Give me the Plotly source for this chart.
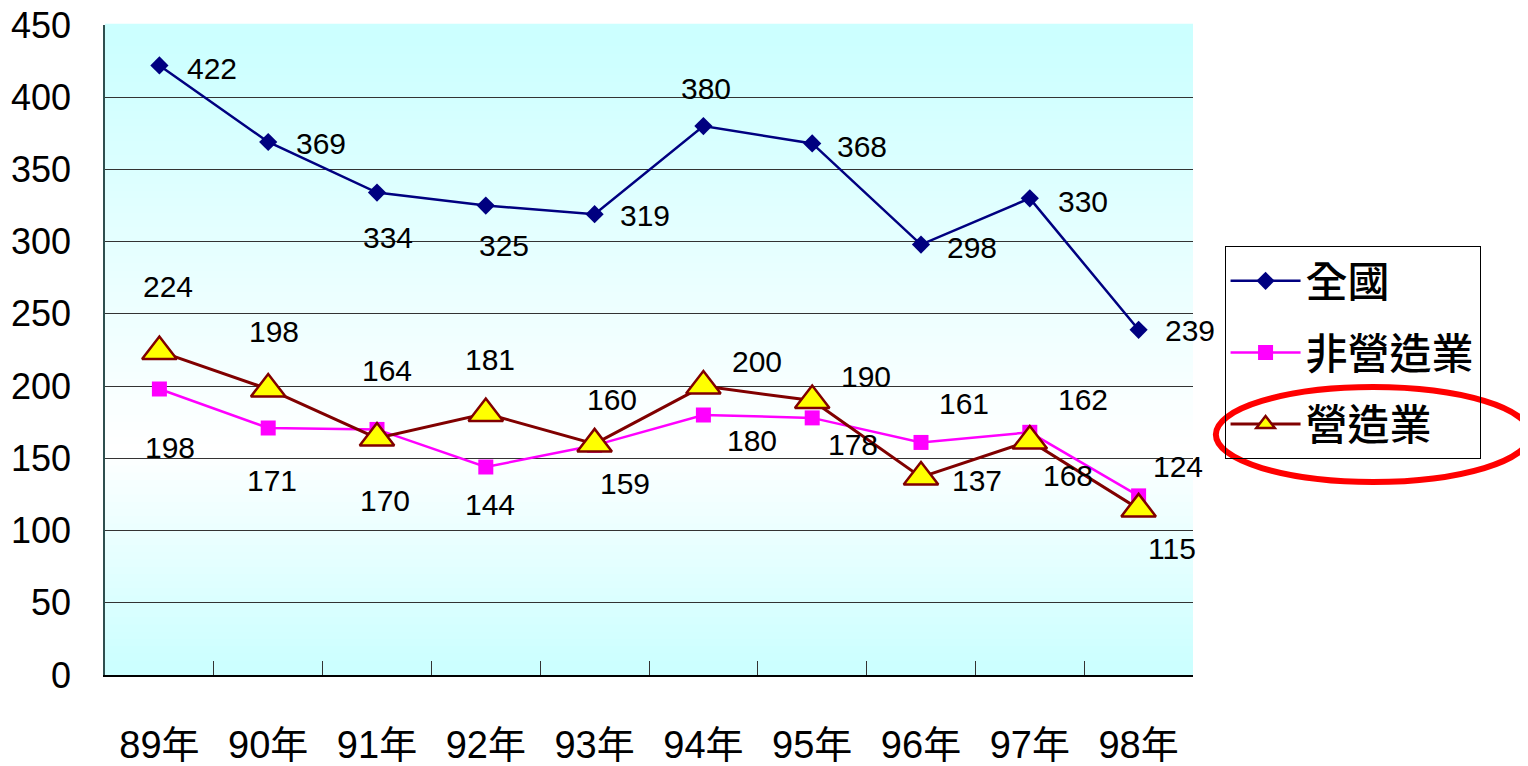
import plotly.graph_objects as go

# data
years = ["89年", "90年", "91年", "92年", "93年", "94年", "95年", "96年", "97年", "98年"]
national = [422, 369, 334, 325, 319, 380, 368, 298, 330, 239]
non_construction = [198, 171, 170, 144, 159, 180, 178, 161, 168, 124]
construction = [224, 198, 164, 181, 160, 200, 190, 137, 162, 115]

# label offsets in pixels (dx right, dy down), one per point
national_off = [(53, 3), (53, 1), (11, 45), (18, 40), (50, 1), (3, -38), (50, 3), (51, 3), (53, 3), (51, 1)]
non_off = [(11, 58), (4, 52), (8, 71), (4, 37), (30, 38), (49, 25), (41, 27), (43, -39), (38, 43), (39, -29)]
cons_off = [(9, -65), (6, -58), (10, -68), (4, -54), (17, -44), (54, -25), (54, -24), (56, 3), (53, -42), (33, 40)]

FONT = "Liberation Sans, Arial, Noto Sans CJK TC"
CJK = "Noto Sans CJK TC, Liberation Sans"

fig = go.Figure()
fig.add_trace(go.Scatter(x=years, y=national, name="全國", mode="lines+markers",
                         line=dict(color="#000080", width=2.5),
                         marker=dict(symbol="diamond", size=14, color="#000080"),
                         legendgroup="a"))
fig.add_trace(go.Scatter(x=years, y=non_construction, name="非營造業", mode="lines+markers",
                         line=dict(color="#FF00FF", width=2.5),
                         marker=dict(symbol="square", size=15, color="#FF00FF"),
                         legendgroup="b"))
fig.add_trace(go.Scatter(x=years, y=construction, name="營造業", mode="lines+markers",
                         line=dict(color="#800000", width=3),
                         marker=dict(symbol="triangle-up", size=30, color="#FFFF00",
                                     line=dict(color="#800000", width=2.5)),
                         legendgroup="c"))

annotations = []
for vals, offs in [(national, national_off), (non_construction, non_off), (construction, cons_off)]:
    for x, v, (dx, dy) in zip(years, vals, offs):
        annotations.append(dict(x=x, y=v, text=str(v), showarrow=False,
                                xshift=dx, yshift=-dy,
                                font=dict(family=FONT, size=30, color="black")))

# background gradient: cyan at top and bottom, white around the middle
shapes = []
n = 90
white_at = 0.35  # fraction from bottom
top_c = (204, 255, 255)
for i in range(n):
    y0 = i / n
    y1 = (i + 1) / n
    ym = (y0 + y1) / 2
    if ym < white_at:
        t = 1 - ym / white_at
    else:
        t = (ym - white_at) / (1 - white_at)
    t = min(1, t * 1.05)
    c = tuple(int(round(255 + (tc - 255) * t)) for tc in top_c)
    shapes.append(dict(type="rect", xref="x domain", yref="y domain", x0=0, x1=1, y0=y0, y1=y1 + 0.002,
                       fillcolor="rgb(%d,%d,%d)" % c, line=dict(width=0), layer="below"))

# red ellipse around the legend entry
shapes.append(dict(type="circle", xref="paper", yref="paper",
                   x0=1.021, x1=1.31, y0=0.297, y1=0.443,
                   line=dict(color="#FF0000", width=6)))

# the page body has an 8px margin, so the figure is a bit smaller than the window
fig.update_layout(
    width=1520, height=758,
    margin=dict(l=97, r=335, t=17, b=91, autoexpand=False),
    paper_bgcolor="white",
    plot_bgcolor="white",
    shapes=shapes,
    annotations=annotations,
    showlegend=True,
    legend=dict(x=1.029, y=0.66, xanchor="left", yanchor="top",
                bgcolor="rgba(0,0,0,0)", bordercolor="black", borderwidth=1,
                font=dict(family=CJK, size=42, color="black", weight=500),
                tracegroupgap=14, itemwidth=70),
)
fig.update_xaxes(
    type="category", range=[-0.5, 9.5], automargin=False,
    showline=True, linecolor="black", linewidth=1.5,
    ticks="inside", ticklen=14, tickcolor="#333333", tickson="boundaries",
    showgrid=False,
    tickfont=dict(family=FONT, size=38, color="black"),
    ticklabelstandoff=36, ticklabeloverflow="allow",
)
fig.update_yaxes(
    range=[0, 450], dtick=50, automargin=False,
    showline=True, linecolor="#2f4f4f", linewidth=1.5,
    ticks="inside", ticklen=14, tickcolor="#333333",
    showgrid=True, gridcolor="#333333", gridwidth=1,
    zeroline=False,
    tickfont=dict(family=FONT, size=36, color="black"),
    ticklabelstandoff=25, ticklabeloverflow="allow",
)

fig.write_html("out.html")
